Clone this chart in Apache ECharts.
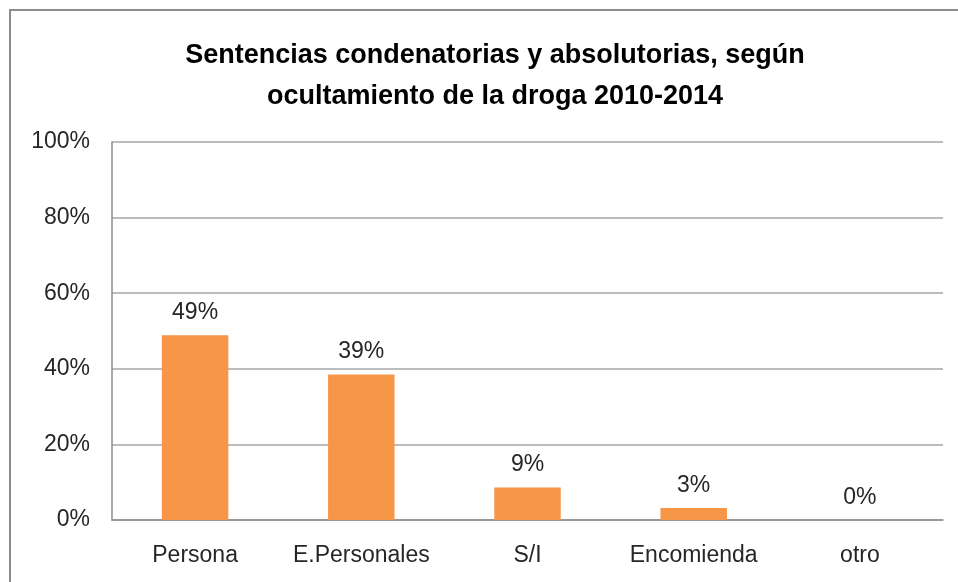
<!DOCTYPE html>
<html>
<head>
<meta charset="utf-8">
<script src="https://cdn.jsdelivr.net/npm/echarts@6/dist/echarts.min.js"></script>
<style>
  html, body { margin: 0; padding: 0; background: #fff; }
  #chart { width: 958px; height: 582px; }
</style>
</head>
<body>
<div id="chart"></div>
<script>
// categories and share of sentences (percent)
const categories = ['Persona', 'E.Personales', 'S/I', 'Encomienda', 'otro'];
const values = [48.9, 38.5, 8.6, 3.2, 0];
const labels = ['49%', '39%', '9%', '3%', '0%'];

const FONT = '"Liberation Sans", Arial, sans-serif';
const TEXT = '#262626';

const chart = echarts.init(document.getElementById('chart'), null, { renderer: 'canvas' });

chart.setOption({
  animation: false,
  backgroundColor: '#fff',
  // outer chart-area frame (runs off the right / bottom edge)
  graphic: [{
    type: 'rect',
    shape: { x: 10, y: 10, width: 1000, height: 620 },
    style: { fill: 'none', stroke: '#8c8c8c', lineWidth: 2 },
    silent: true
  }],
  title: {
    text: 'Sentencias condenatorias y absolutorias, según\nocultamiento de la droga 2010-2014',
    left: 490,
    top: 30,
    textAlign: 'center',
    textStyle: {
      fontFamily: FONT,
      fontWeight: 'bold',
      fontSize: 27,
      lineHeight: 41,
      color: '#000'
    }
  },
  grid: { left: 112, right: 15, top: 142, bottom: 62 },
  xAxis: {
    type: 'category',
    data: categories,
    axisLine: { lineStyle: { color: '#8c8c8c', width: 1.5 } },
    axisTick: { show: false },
    axisLabel: { interval: 0, hideOverlap: false, fontFamily: FONT, fontSize: 23, color: TEXT, margin: 24 }
  },
  yAxis: {
    type: 'value',
    min: 0,
    max: 100,
    interval: 20,
    axisLine: { show: true, lineStyle: { color: '#8c8c8c', width: 1.5 } },
    axisTick: { show: false },
    splitLine: { lineStyle: { color: '#a6a6a6', width: 1.5 } },
    axisLabel: { fontFamily: FONT, fontSize: 23, color: TEXT, margin: 22, formatter: '{value}%' }
  },
  series: [{
    type: 'bar',
    data: values,
    barWidth: '40%',
    itemStyle: { color: '#F79646' },
    label: {
      show: true,
      position: 'top',
      distance: 11,
      fontFamily: FONT,
      fontSize: 23,
      color: TEXT,
      formatter: (p) => labels[p.dataIndex]
    }
  }]
});
</script>
</body>
</html>
